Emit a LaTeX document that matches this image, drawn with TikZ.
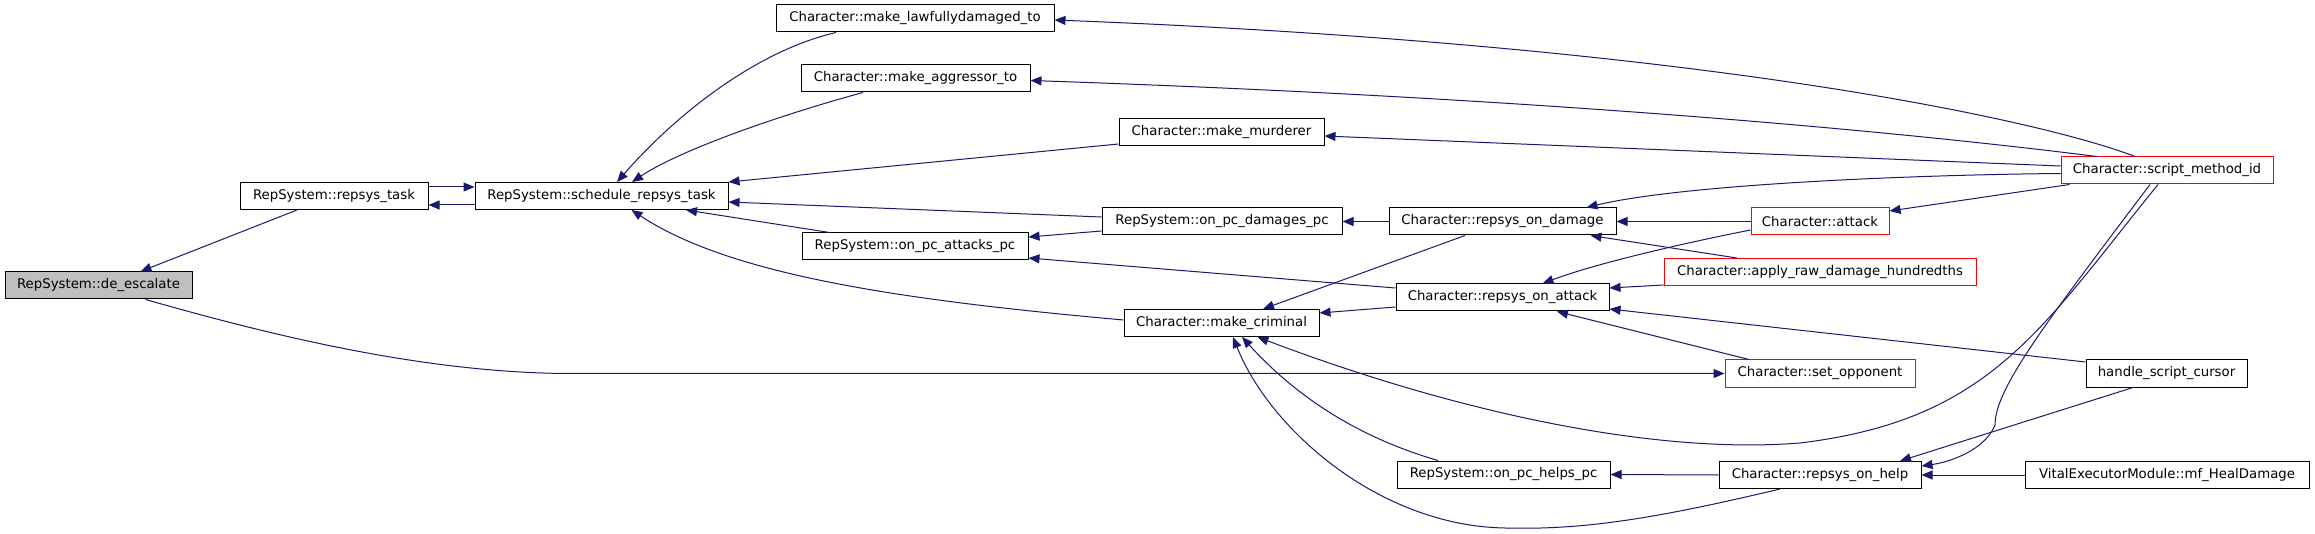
\documentclass[tikz,border=0pt]{standalone}
\usepackage{fontspec}
\setmainfont{DejaVu Sans}
\usetikzlibrary{arrows.meta,calc}
\definecolor{edgec}{RGB}{25,25,112}
\definecolor{rootfill}{RGB}{191,191,191}
\begin{document}
\begin{tikzpicture}[x=1pt,y=-1pt,
  box/.style={draw=black,line width=1pt,rectangle,inner sep=0pt,minimum height=27pt,
    font=\fontsize{13.3}{16}\selectfont,anchor=center},
  redbox/.style={box,draw=red},
  edge/.style={draw=edgec,line width=1pt,-{Triangle[length=11pt,width=9pt]},color=edgec}]
\useasboundingbox (0,0) rectangle (2315,534);

% nodes
\node[box,fill=rootfill,minimum width=187pt] (de) at (98.5,285.5) {RepSystem::de\_escalate};
\node[box,minimum width=188pt] (rt) at (334,196) {RepSystem::repsys\_task};
\node[box,minimum width=253pt] (sch) at (601.5,196) {RepSystem::schedule\_repsys\_task};
\node[box,minimum width=278pt] (law) at (915,18.5) {Character::make\_lawfullydamaged\_to};
\node[box,minimum width=229pt] (agg) at (915.5,78.5) {Character::make\_aggressor\_to};
\node[box,minimum width=205pt] (mur) at (1221.5,132) {Character::make\_murderer};
\node[box,minimum width=240pt] (dmg) at (1222,221.5) {RepSystem::on\_pc\_damages\_pc};
\node[box,minimum width=226pt] (att) at (915,246.5) {RepSystem::on\_pc\_attacks\_pc};
\node[box,minimum width=195pt] (crim) at (1221.5,323) {Character::make\_criminal};
\node[box,minimum width=227pt] (rod) at (1502.5,221.5) {Character::repsys\_on\_damage};
\node[box,minimum width=213pt] (roa) at (1502.5,297.5) {Character::repsys\_on\_attack};
\node[box,minimum width=213pt] (helps) at (1503.5,474.5) {RepSystem::on\_pc\_helps\_pc};
\node[redbox,minimum width=212pt] (smi) at (2167,170.5) {Character::script\_method\_id};
\node[redbox,minimum width=138pt] (atk) at (1820,221.5) {Character::attack};
\node[redbox,minimum width=312pt] (raw) at (1820,272) {Character::apply\_raw\_damage\_hundredths};
\node[redbox,minimum width=190pt] (opp) at (1820,373.5) {Character::set\_opponent};
\node[box,minimum width=161pt] (hsc) at (2166.5,373.5) {handle\_script\_cursor};
\node[box,minimum width=202pt] (roh) at (1820,475) {Character::repsys\_on\_help};
\node[box,minimum width=284pt] (heal) at (2167,475) {VitalExecutorModule::mf\_HealDamage};

% edges
\draw[edge] ($(rt.east)+(0,-9)$) -- ($(sch.west)+(0,-9)$);
\draw[edge] ($(sch.west)+(0,9)$) -- ($(rt.east)+(0,9)$);
\draw[edge] ($(rt.south)+(-37,0)$) -- ($(de.north)+(42,0)$);
\draw[edge] ($(de.south)+(47,0)$) .. controls (260,332) and (420,373.5) .. (572,373.5) -- (opp.west);

\draw[edge] ($(law.south)+(-79,0)$) .. controls (760,50) and (680,110) .. ($(sch.north)+(15.5,0)$);
\draw[edge] ($(agg.south)+(-52.5,0)$) .. controls (780,115) and (680,150) .. ($(sch.north)+(30.5,0)$);
\draw[edge] ($(mur.west)+(0,12)$) -- (sch.north east);
\draw[edge] ($(dmg.west)+(0,-4.5)$) -- ($(sch.east)+(0,6)$);
\draw[edge] ($(att.north west)+(28,0)$) -- ($(sch.south)+(84.5,0)$);
\draw[edge] ($(crim.west)+(0,-3)$) .. controls (900,300) and (730,275) .. ($(sch.south)+(30,0)$);

\draw[edge] ($(dmg.west)+(0,9.5)$) -- ($(att.east)+(0,-9.5)$);
\draw[edge] ($(roa.west)+(0,-9.5)$) -- ($(att.east)+(0,11.5)$);
\draw[edge] (rod.west) -- (dmg.east);
\draw[edge] ($(rod.south)+(-37.5,0)$) -- ($(crim.north)+(41.5,0)$);
\draw[edge] ($(roa.west)+(0,9.5)$) -- ($(crim.east)+(0,-10)$);
\draw[edge] ($(helps.north)+(-65.5,0)$) .. controls (1350,435) and (1290,390) .. ($(crim.south)+(20.5,0)$);
\draw[edge] ($(roh.south)+(-40,0)$) .. controls (1650,520) and (1580,530) .. (1505,528)
   .. controls (1380,526) and (1270,430) .. ($(crim.south)+(11.5,0)$);
\draw[edge] ($(smi.south)+(-9,0)$) .. controls (2040,330) and (1990,420) .. (1800,443)
   .. controls (1650,455) and (1450,410) .. ($(crim.south)+(36,0)$);
\draw[edge] ($(smi.south)+(-17,0)$) .. controls (2040,330) and (1995,390) .. (1995,425)
   .. controls (1985,450) and (1950,462) .. ($(roh.east)+(0,-9)$);
\draw[edge] ($(hsc.south)+(-33.5,0)$) -- ($(roh.north)+(80,0)$);
\draw[edge] (heal.west) -- (roh.east);
\draw[edge] (roh.west) -- (helps.east);

\draw[edge] ($(smi.north)+(-32,0)$) .. controls (2040,120) and (1700,45) .. ($(law.east)+(0,1.5)$);
\draw[edge] ($(smi.north)+(-70,0)$) .. controls (1950,138) and (1600,100) .. ($(agg.east)+(0,2)$);
\draw[edge] ($(smi.west)+(0,-4.5)$) -- ($(mur.east)+(0,4)$);
\draw[edge] ($(smi.west)+(0,3)$) .. controls (1900,175) and (1680,185) .. ($(rod.north)+(84,0)$);
\draw[edge] ($(smi.south west)+(9,0)$) -- ($(atk.east)+(0,-10.5)$);

\draw[edge] (atk.west) -- (rod.east);
\draw[edge] ($(atk.west)+(0,8.5)$) .. controls (1690,242) and (1600,262) .. ($(roa.north)+(40,0)$);
\draw[edge] ($(raw.north)+(-83,0)$) -- ($(rod.south)+(88,0)$);
\draw[edge] ($(raw.west)+(0,13)$) -- ($(roa.east)+(0,-9.5)$);
\draw[edge] ($(hsc.west)+(0,-11.5)$) -- ($(roa.east)+(0,11.5)$);
\draw[edge] ($(opp.north)+(-71,0)$) -- ($(roa.south)+(54.5,0)$);
\end{tikzpicture}
\end{document}
